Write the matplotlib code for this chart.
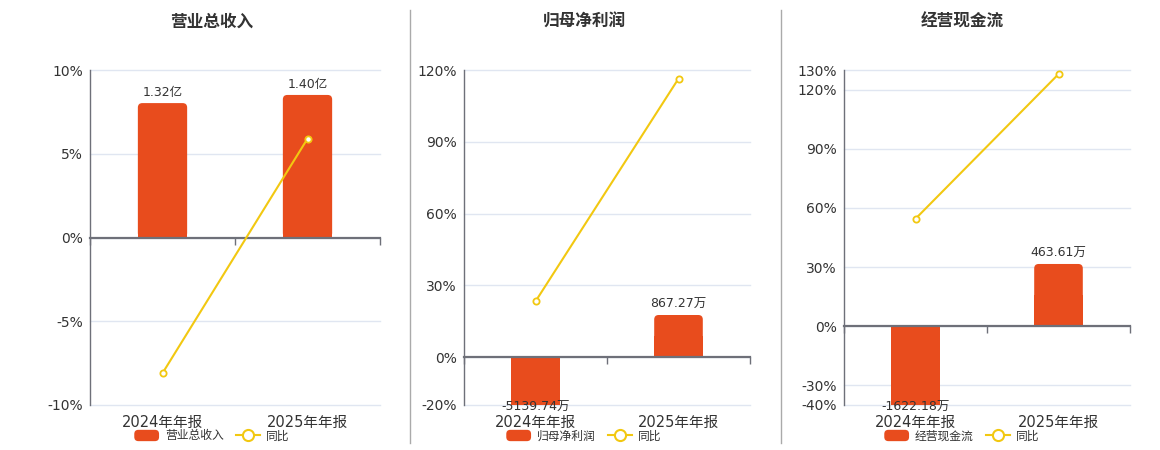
import matplotlib
matplotlib.use('Agg')
import matplotlib.pyplot as plt
from matplotlib.lines import Line2D
from matplotlib.patches import Patch, FancyBboxPatch, Rectangle
from matplotlib.legend_handler import HandlerPatch
from matplotlib.ticker import FuncFormatter, FixedLocator

plt.rcParams['font.family'] = ['DejaVu Sans', 'Noto Sans CJK SC']

# ---------------- data ----------------
categories = ['2024年年报', '2025年年报']
titles = ['营业总收入', '归母净利润', '经营现金流']
units = ['亿', '万', '万']
revenue = [1.32, 1.40]
net_profit = [-5139.74, 867.27]
cash_flow = [-1622.18, 463.61]
revenue_yoy = [-8.1, 5.9]
net_profit_yoy = [23.3, 116.4]
cash_flow_yoy = [54.5, 127.9]
revenue_ticks = [-10, -5, 0, 5, 10]
net_profit_ticks = [-20, 0, 30, 60, 90, 120]
cash_flow_ticks = [-40, -30, 0, 30, 60, 90, 120, 130]

# ---------------- style / layout ----------------
BAR = '#E84C1D'
YEL = '#F2C811'
AXC = '#6E7079'
GRID = '#E0E6F1'
TXT = '#333333'
W, H = 1160, 450
AX_BOTTOM, AX_HEIGHT = 45, 335
bar_limits = [(-1.645, 1.645), (-991, 5926), (-596, 1921)]
axes_px = [(90, 290), (464, 286), (844, 286)]   # left, width
title_cx = [212, 584, 962]
divider_x = [410, 781]
RADIUS_PX = 4.5


class RoundHandler(HandlerPatch):
    def create_artists(self, legend, orig_handle, xdescent, ydescent,
                       width, height, fontsize, trans):
        p = FancyBboxPatch((-xdescent, -ydescent), width, height,
                           boxstyle='round,pad=0,rounding_size=3',
                           facecolor=orig_handle.get_facecolor(),
                           edgecolor='none', transform=trans)
        return [p]


fig = plt.figure(figsize=(W / 100, H / 100), dpi=100)

panels = [
    (revenue, revenue_yoy, revenue_ticks),
    (net_profit, net_profit_yoy, net_profit_ticks),
    (cash_flow, cash_flow_yoy, cash_flow_ticks),
]

x = list(range(len(categories)))

for i, (vals, yoy, ticks) in enumerate(panels):
    left, width = axes_px[i]
    rect = [left / W, AX_BOTTOM / H, width / W, AX_HEIGHT / H]
    lo, hi = ticks[0], ticks[-1]
    xlo, xhi = -0.5, len(categories) - 0.5

    ax = fig.add_axes(rect)
    ax.set_zorder(0)
    ax.set_xlim(xlo, xhi)
    ax.set_ylim(lo, hi)
    ax.yaxis.set_major_locator(FixedLocator(ticks))
    ax.yaxis.set_major_formatter(FuncFormatter(lambda v, p: f'{v:g}%'))
    ax.grid(axis='y', color=GRID, lw=1)
    for gl in ax.get_ygridlines():
        gl.set_clip_on(False)
    ax.set_axisbelow(True)
    ax.tick_params(axis='y', length=0, pad=5, labelsize=10, labelcolor=TXT)
    ax.set_xticks(x)
    ax.set_xticklabels(categories)
    ax.tick_params(axis='x', length=0, pad=7, labelsize=10.5, labelcolor=TXT)
    for s in ['top', 'right', 'bottom']:
        ax.spines[s].set_visible(False)
    ax.spines['left'].set_color(AXC)
    ax.spines['left'].set_linewidth(1)

    # bars on their own value scale
    axb = ax.twinx()
    axb.set_zorder(1)
    blo, bhi = bar_limits[i]
    axb.set_ylim(blo, bhi)
    axb.set_yticks([])
    for s in axb.spines.values():
        s.set_visible(False)
    bars = axb.bar(x, vals, width=0.34, color=BAR, zorder=2)
    # round the far end of each bar (geometry taken from the drawn bars)
    xpp = (xhi - xlo) / width
    ypp = (bhi - blo) / AX_HEIGHT
    for r in bars:
        bx, by = r.get_x(), r.get_y()
        bw, bh = r.get_width(), r.get_height()
        r.set_visible(False)
        y0, y1 = min(by, by + bh), max(by, by + bh)
        fb = FancyBboxPatch((bx, y0), bw, y1 - y0,
                            boxstyle=f'round,pad=0,rounding_size={RADIUS_PX * xpp}',
                            mutation_aspect=ypp / xpp, facecolor=BAR,
                            edgecolor='none', zorder=2)
        axb.add_patch(fb)
        # square off the end that touches zero
        half = (y1 - y0) / 2
        sq_y = 0 if bh >= 0 else -half
        axb.add_patch(Rectangle((bx, sq_y), bw, half, facecolor=BAR,
                                edgecolor='none', zorder=2))
    for xi, v in zip(x, vals):
        label = f'{v:.2f}{units[i]}'
        if v >= 0:
            axb.annotate(label, (xi, v), xytext=(0, 3), textcoords='offset points',
                         ha='center', va='bottom', fontsize=9, color=TXT,
                         annotation_clip=False)
        else:
            axb.annotate(label, (xi, max(v, blo)), xytext=(0, -2), textcoords='offset points',
                         ha='center', va='center', fontsize=9, color=TXT,
                         annotation_clip=False)

    # yoy line on percent scale
    axl = ax.twinx()
    axl.set_zorder(2)
    axl.set_ylim(lo, hi)
    axl.set_yticks([])
    for s in axl.spines.values():
        s.set_visible(False)
    axl.plot(x, yoy, color=YEL, lw=1.5, marker='o', markersize=4.5,
             markerfacecolor='white', markeredgecolor=YEL, markeredgewidth=1.3,
             clip_on=False, zorder=3)

    # zero axis line with category boundary ticks
    zpos = (0 - lo) / (hi - lo)
    sec = axl.secondary_xaxis(zpos)
    sec.set_alignment('bottom')
    sec.set_xticks([k - 0.5 for k in range(len(categories) + 1)])
    sec.set_xticklabels([])
    sec.tick_params(axis='x', direction='out', length=5, width=1, color=AXC)
    sec.spines['bottom'].set_color(AXC)
    sec.spines['bottom'].set_linewidth(1.6)

    # title
    fig.text(title_cx[i] / W, 1 - 22 / H, titles[i], ha='center', va='center',
             fontsize=12, fontweight='bold', color=TXT)

    # legend
    handles = [
        Patch(facecolor=BAR, edgecolor='none'),
        Line2D([], [], color=YEL, lw=1.5, marker='o', markersize=8,
               markerfacecolor='white', markeredgecolor=YEL, markeredgewidth=1.5),
    ]
    leg = fig.legend(handles, [titles[i], '同比'], loc='center',
                     bbox_to_anchor=(title_cx[i] / W, 1 - 436 / H), ncol=2,
                     frameon=False, fontsize=8.5, handlelength=2.1, handleheight=1.1,
                     handletextpad=0.5, columnspacing=1.0, borderpad=0.2,
                     handler_map={Patch: RoundHandler()})
    for t in leg.get_texts():
        t.set_color(TXT)

for dx in divider_x:
    fig.add_artist(Line2D([dx / W, dx / W], [1 - 10 / H, 1 - 443 / H],
                          color='#AAAAAA', lw=1))

fig.savefig('out.png', dpi=100)
